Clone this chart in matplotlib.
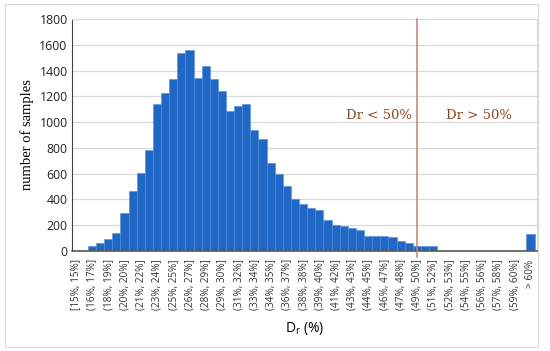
import numpy as np
import matplotlib.pyplot as plt
from matplotlib.patches import Rectangle

# counts per histogram bin (57 bins, the last one is the overflow bin)
counts = [0, 0, 39, 59, 96, 142, 295, 463, 602, 780,
          1142, 1225, 1331, 1540, 1563, 1341, 1439, 1336, 1240, 1090,
          1124, 1142, 935, 866, 682, 600, 504, 400, 364, 333,
          318, 238, 204, 196, 178, 163, 119, 114, 119, 109,
          78, 62, 39, 39, 39, 0, 0, 0, 0, 0,
          0, 0, 0, 0, 0, 0, 134]

# only every other bin gets a label on the axis
tick_labels = ["[15%, 15%]", "(16%, 17%]", "(18%, 19%]", "(20%, 20%]", "(21%, 22%]",
               "(23%, 24%]", "(25%, 25%]", "(26%, 27%]", "(28%, 29%]", "(29%, 30%]",
               "(31%, 32%]", "(33%, 34%]", "(34%, 35%]", "(36%, 37%]", "(38%, 38%]",
               "(39%, 40%]", "(41%, 42%]", "(43%, 43%]", "(44%, 45%]", "(46%, 47%]",
               "(47%, 48%]", "(49%, 50%]", "(51%, 52%]", "(52%, 53%]", "(54%, 55%]",
               "(56%, 56%]", "(57%, 58%]", "(59%, 60%]", "> 60%"]

split_bin = 42  # bin holding Dr = 50%
y_ticks = list(range(0, 2000, 200))

fig = plt.figure(figsize=(5.5, 3.51), dpi=100)
ax = fig.add_axes([71.7 / 550, 100 / 351, (537 - 71.7) / 550, 232 / 351])

x = np.arange(len(counts))
ax.bar(x, counts, width=1.0, color="#2167c6", edgecolor="#4f8fdc", linewidth=0.4, zorder=2)

ax.set_xlim(-0.5, len(counts) - 0.2)
ax.set_ylim(0, 1800)
ax.set_yticks(y_ticks)
ax.set_yticklabels([str(v) for v in y_ticks], fontsize=8.8, color="#222222",
                   family="Open Sans")
ax.set_xticks(x[::2])
ax.set_xticklabels(tick_labels, rotation=90, fontsize=7.2, color="#333333",
                   family="Open Sans")
ax.tick_params(axis="both", length=0, pad=3)
ax.tick_params(axis="x", pad=6)

ax.grid(axis="y", color="#d9d9d9", linewidth=0.9, zorder=0)
ax.set_axisbelow(True)
for side in ["top", "right"]:
    ax.spines[side].set_color("#d9d9d9")
ax.spines["left"].set_color("#404040")
ax.spines["bottom"].set_color("#595959")
ax.spines["bottom"].set_linewidth(1.2)

# Dr = 50% marker line
ax.axvline(split_bin, ymin=-0.025, ymax=1, color="#c97f70", linewidth=1.1,
           clip_on=False, zorder=3)
ax.text(split_bin - 0.6, 1055, "Dr < 50%", ha="right", va="center", fontsize=9.5,
        color="#8b4a22", family="DejaVu Serif")
ax.text(split_bin + 7.6, 1055, "Dr > 50%", ha="center", va="center", fontsize=9.5,
        color="#8b4a22", family="DejaVu Serif")

ax.set_ylabel("number of samples", fontsize=10.5, family="Liberation Serif", labelpad=4)
ax.set_xlabel(r"D$_\mathregular{r}$ (%)", fontsize=10, family="Open Sans", labelpad=7)

# outer chart border
fig.add_artist(Rectangle((5 / 550, 4 / 351), 533 / 550, 343 / 351, transform=fig.transFigure,
                         fill=False, edgecolor="#d9d9d9", linewidth=0.8))

fig.savefig("out.png", dpi=100)
